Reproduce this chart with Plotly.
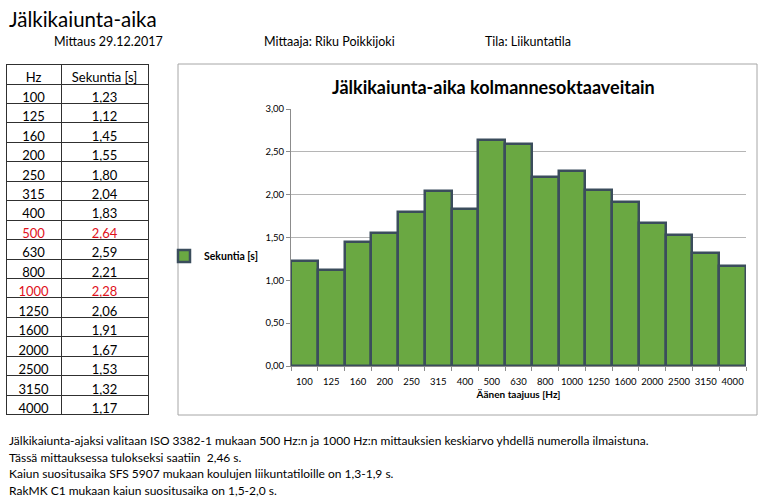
import plotly.graph_objects as go

W, H = 767, 502

freqs = ["100", "125", "160", "200", "250", "315", "400", "500", "630", "800",
         "1000", "1250", "1600", "2000", "2500", "3150", "4000"]
seconds = [1.23, 1.12, 1.45, 1.55, 1.80, 2.04, 1.83, 2.64, 2.59, 2.21,
           2.28, 2.06, 1.91, 1.67, 1.53, 1.32, 1.17]
highlight = ["500", "1000"]

page_title = "Jälkikaiunta-aika"
header_items = ["Mittaus 29.12.2017", "Mittaaja: Riku Poikkijoki", "Tila: Liikuntatila"]
chart_title = "Jälkikaiunta-aika kolmannesoktaaveitain"
series_name = "Sekuntia [s]"
x_title = "Äänen taajuus [Hz]"
table_headers = ["Hz", "Sekuntia [s]"]
notes = [
    "Jälkikaiunta-ajaksi valitaan ISO 3382-1 mukaan 500 Hz:n ja 1000 Hz:n mittauksien keskiarvo yhdellä numerolla ilmaistuna.",
    "Tässä mittauksessa tulokseksi saatiin  2,46 s.",
    "Kaiun suositusaika SFS 5907 mukaan koulujen liikuntatiloille on 1,3-1,9 s.",
    "RakMK C1 mukaan kaiun suositusaika on 1,5-2,0 s.",
]

FONT = "Lato"

def px(x):
    return x / W

def py(y):
    return 1 - y / H

fig = go.Figure()

# table
val_text = [f"{v:.2f}".replace(".", ",") for v in seconds]
colors = ["#e0101a" if f in highlight else "#000000" for f in freqs]
fig.add_trace(go.Table(
    domain=dict(x=[px(6), px(148)], y=[py(416), py(64)]),
    columnwidth=[55, 87],
    header=dict(values=table_headers, height=20,
                line=dict(color="#303030", width=1), fill=dict(color="white"),
                font=dict(family=FONT, size=13, color="black"), align="center"),
    cells=dict(values=[freqs, val_text], height=19.45,
               line=dict(color="#303030", width=1), fill=dict(color="white"),
               font=dict(family=FONT, size=13, color=[colors, colors]), align="center"),
))

# bars
fig.add_trace(go.Bar(
    x=freqs, y=seconds, name=series_name,
    marker=dict(color="#6aa842", line=dict(color="#3b4d5c", width=2.5)),
    showlegend=True,
))

fig.update_layout(
    width=W, height=H,
    margin=dict(l=0, r=0, t=0, b=0),
    paper_bgcolor="white", plot_bgcolor="white",
    separators=",.",
    bargap=0,
    font=dict(family=FONT, color="black"),
    xaxis=dict(domain=[px(291), px(746)], type="category",
               showline=True, linecolor="#8c8c8c", linewidth=1,
               ticks="outside", tickson="boundaries", ticklen=4, tickcolor="#8c8c8c",
               tickangle=0, automargin=False, ticklabelstandoff=7,
               tickfont=dict(size=9.5, family=FONT), showgrid=False,
               title=dict(text=x_title, font=dict(size=10, family=FONT, weight="bold"), standoff=4)),
    yaxis=dict(domain=[py(366), py(109)], range=[0, 3], dtick=0.5, tickformat=".2f",
               showline=True, linecolor="#8c8c8c", linewidth=1,
               ticks="outside", ticklen=4, tickcolor="#8c8c8c", automargin=False,
               showgrid=True, gridcolor="#b5b5b5", gridwidth=1, zeroline=False,
               tickfont=dict(size=9.5, family=FONT)),
    legend=dict(x=px(164), y=py(256), xanchor="left", yanchor="middle",
                font=dict(size=10.5, family=FONT, weight="bold"), bgcolor="rgba(0,0,0,0)",
                itemwidth=30),
)

# chart box
fig.add_shape(type="rect", xref="paper", yref="paper",
              x0=px(178), x1=px(757), y0=py(415), y1=py(64),
              line=dict(color="#a6a6a6", width=1), layer="below")

anns = []
anns.append(dict(text=page_title, x=px(7), y=py(19), xanchor="left", yanchor="middle",
                 font=dict(size=20.5, family=FONT)))
for txt, xx in zip(header_items, [52, 262, 483]):
    anns.append(dict(text=txt, x=px(xx), y=py(41), xanchor="left", yanchor="middle",
                     font=dict(size=12.5, family=FONT)))
anns.append(dict(text=chart_title, x=px(493), y=py(87), xanchor="center",
                 yanchor="middle", font=dict(size=18, family=FONT, weight="bold")))
for i, n in enumerate(notes):
    anns.append(dict(text=n, x=px(7), y=py(440.5 + i * 16.5), xanchor="left", yanchor="middle",
                     font=dict(size=12, family=FONT)))
for a in anns:
    a.update(xref="paper", yref="paper", showarrow=False)
fig.update_layout(annotations=anns)

fig.write_html("out.html",
               config={"displayModeBar": False},
               post_script="document.body.style.margin='0px';document.body.style.overflow='hidden';")
